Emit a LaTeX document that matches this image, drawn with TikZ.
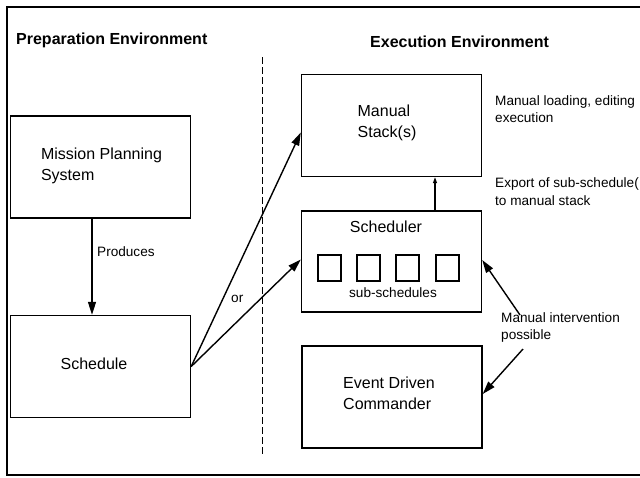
\documentclass[tikz,border=0pt]{standalone}
\usepackage{fontspec}
\setmainfont{Liberation Sans}
\usetikzlibrary{arrows.meta}
\begin{document}
\begin{tikzpicture}[x=1pt,y=-1pt,
  box/.style={draw,line width=1.4pt,minimum width=180pt,minimum height=102pt,inner sep=0pt},
  sbox/.style={draw,line width=1.2pt,minimum width=23pt,minimum height=26pt,inner sep=0pt},
  boxtext/.style={font=\fontsize{16}{20.5}\selectfont,align=left,inner sep=0pt},
  head/.style={font=\bfseries\fontsize{16}{19}\selectfont,inner sep=0pt},
  lab/.style={font=\fontsize{13.6}{17.5}\selectfont,align=left,inner sep=0pt,anchor=west},
  arr/.style={line width=1.4pt,-{Triangle[length=13pt,width=8pt]}},
  sarr/.style={line width=1.2pt,-{Triangle[length=6pt,width=4pt]}}]
\useasboundingbox (0,0) rectangle (640,477);
\clip (0,0) rectangle (640,477);
\fill[white] (0,0) rectangle (640,477);
% frame
\draw[line width=2pt] (7,7) rectangle (660,475);
% headings
\node[head,anchor=west] (hprep) at (16,40) {Preparation Environment};
\node[head,anchor=west] (hexec) at (370,42) {Execution Environment};
% divider
\draw[line width=1pt,dash pattern=on 7pt off 3pt] (262,57) -- (262,454);
% boxes
\node[box] (mps) at (100.5,167) {};
\node[boxtext] (mpst) at (101.5,166) {Mission Planning\\System};
\node[box] (sched) at (100.5,366.5) {};
\node[boxtext] (schedt) at (94,364) {Schedule};
\node[box] (ms) at (391.5,125.5) {};
\node[boxtext] (mst) at (387,123) {Manual\\Stack(s)};
\node[box,minimum height=101pt] (scr) at (391.5,261.5) {};
\node[boxtext] (scrt) at (386,227) {Scheduler};
\node[sbox] (s1) at (329.5,268) {};
\node[sbox] (s2) at (368.5,268) {};
\node[sbox] (s3) at (407.5,268) {};
\node[sbox] (s4) at (447.5,268) {};
\node[lab,anchor=center] (subl) at (393,293) {sub-schedules};
\node[box] (edc) at (392,397) {};
\node[boxtext] (edct) at (389,393.5) {Event Driven\\Commander};
% labels
\node[lab] (l1) at (495,109) {Manual loading, editing\\execution};
\node[lab] (l2) at (495,191.5) {Export of sub-schedule(\\to manual stack};
\node[lab] (l3) at (501,327.5) {Manual intervention\\possible};
\node[lab] (prod) at (97,252) {Produces};
\node[lab] (orl) at (231,299) {or};
% connectors
\draw[arr] ([xshift=-8.5pt]mps.south) -- ([xshift=-8.5pt]sched.north);
\draw[arr] (sched.east) -- ([yshift=-7pt]ms.west);
\draw[arr] (sched.east) -- ([yshift=2pt]scr.west);
\draw[sarr] ([xshift=43.5pt]scr.north) -- ([xshift=43.5pt]ms.south);
\coordinate (mi1) at (520,315);
\coordinate (mi2) at (523,349);
\draw[arr] (mi1) -- ([yshift=1.5pt]scr.east);
\draw[arr] (mi2) -- ([yshift=3pt]edc.east);
\end{tikzpicture}
\end{document}
